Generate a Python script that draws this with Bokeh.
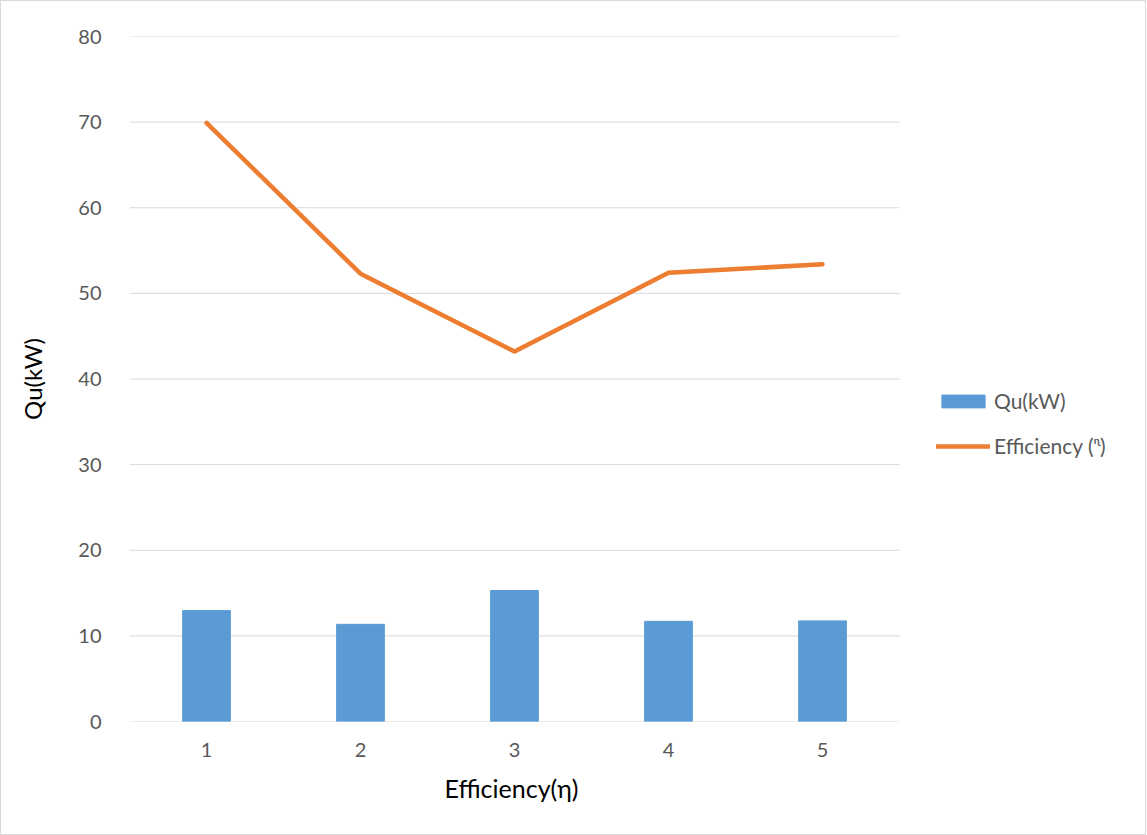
from bokeh.plotting import figure
from bokeh.models import ColumnDataSource, Legend, LegendItem, FixedTicker, Range1d, Title
from bokeh.embed import file_html
from bokeh.resources import INLINE

categories = [1, 2, 3, 4, 5]
qu_kw = [12.95, 11.35, 15.3, 11.7, 11.75]
efficiency = [69.9, 52.3, 43.2, 52.4, 53.4]
y_ticks = [0, 10, 20, 30, 40, 50, 60, 70, 80]

FONT = "Lato"
W, H = 1146, 835
LEFT, RIGHT, TOP, BOTTOM = 128, 1, 35, 115
CAT_PX = 154  # pixel width of one category slot
x_start = categories[0] - 0.5
x_end = x_start + (W - LEFT - RIGHT) / CAT_PX

src = ColumnDataSource(dict(x=categories, qu=qu_kw, eff=efficiency))
grid_src = ColumnDataSource(dict(
    x0=[categories[0] - 0.5] * len(y_ticks),
    x1=[categories[-1] + 0.5] * len(y_ticks),
    y=y_ticks,
))

p = figure(
    x_range=Range1d(x_start, x_end), y_range=Range1d(0, 80),
    width=W, height=H,
    output_backend="svg", toolbar_location=None,
    min_border_left=LEFT, min_border_right=RIGHT,
    min_border_top=TOP, min_border_bottom=BOTTOM,
    background_fill_color="white", border_fill_color="white",
    outline_line_color=None,
    styles={"border": "1px solid #d9d9d9"},
)

p.segment(x0="x0", y0="y", x1="x1", y1="y", source=grid_src,
          line_color="#d9d9d9", line_width=1)
bars = p.vbar(x="x", top="qu", width=0.31, source=src, color="#5B9BD5")
line = p.line(x="x", y="eff", source=src, line_color="#ED7D31", line_width=4.5,
              line_cap="round", line_join="round")

p.yaxis.ticker = FixedTicker(ticks=y_ticks)
p.xaxis.ticker = FixedTicker(ticks=categories)
p.grid.grid_line_color = None

for ax in (p.xaxis, p.yaxis):
    ax.major_tick_line_color = None
    ax.minor_tick_line_color = None
    ax.axis_line_color = None
    ax.major_label_text_font = FONT
    ax.major_label_text_font_size = "20px"
    ax.major_label_text_color = "#595959"
    ax.axis_label_text_font = FONT
    ax.axis_label_text_font_size = "24px"
    ax.axis_label_text_font_style = "normal"
    ax.axis_label_text_color = "#000000"

p.yaxis.axis_label = "Qu(kW)"
p.yaxis.major_label_standoff = 22
p.yaxis.axis_label_standoff = 28
p.xaxis.major_label_standoff = 15

xlabel = Title(text="Efficiency(η)", align="left", offset=315, standoff=22,
               text_font=FONT, text_font_size="25px", text_font_style="normal",
               text_color="#000000")
p.add_layout(xlabel, "below")

legend = Legend(
    items=[LegendItem(label="Qu(kW)", renderers=[bars]),
           LegendItem(label="Efficiency (ᶯ)", renderers=[line])],
    location=(807, 263),
    label_text_font=FONT, label_text_font_size="21px", label_text_color="#595959",
    glyph_width=54, glyph_height=16, label_standoff=4, spacing=20,
    padding=10, margin=0,
    border_line_color=None, background_fill_alpha=0,
)
p.add_layout(legend, "center")

open("out.html", "w").write(file_html(p, INLINE))
